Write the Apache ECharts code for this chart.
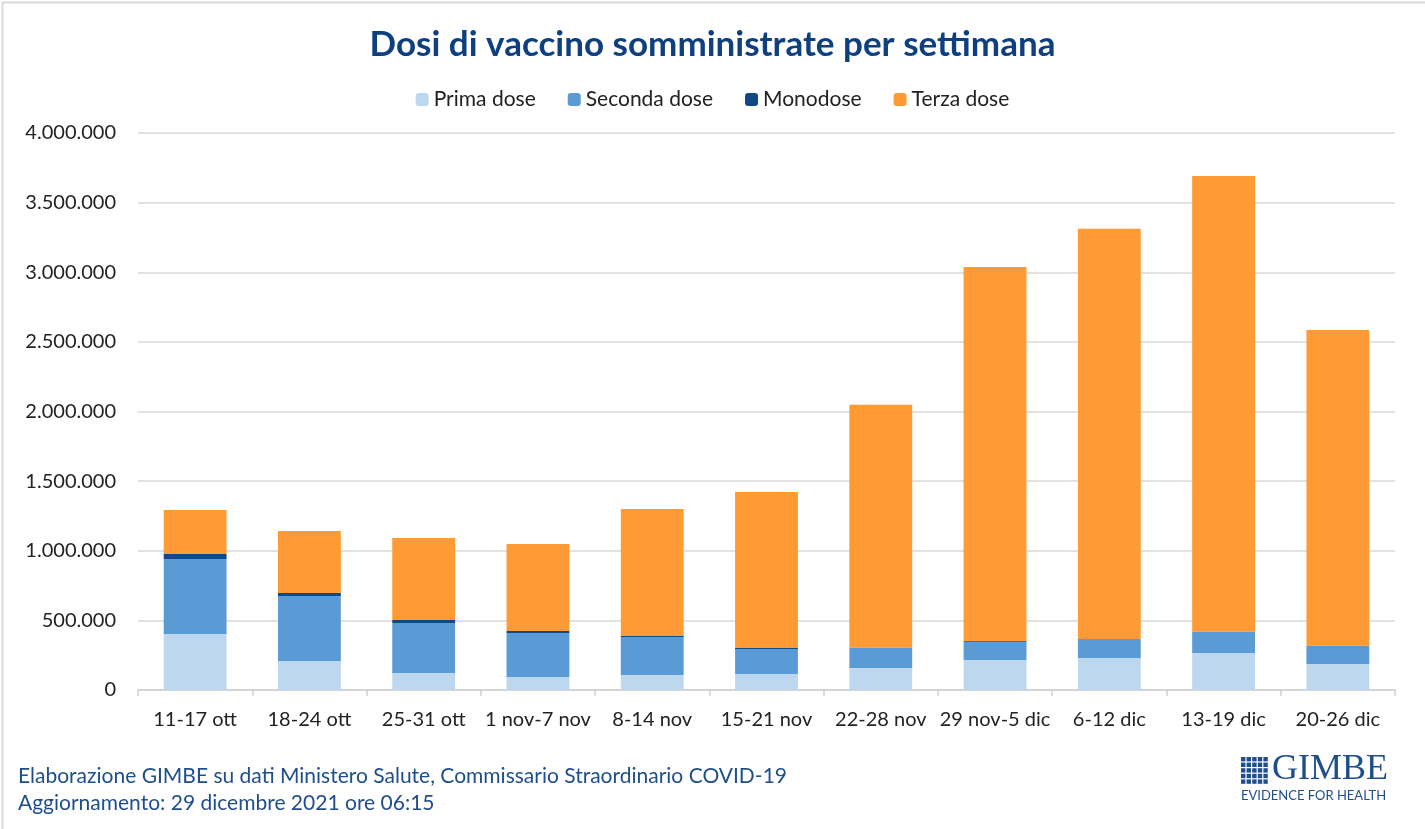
<!DOCTYPE html>
<html><head><meta charset="utf-8">
<script src="https://cdn.jsdelivr.net/npm/echarts@6/dist/echarts.min.js"></script>
<style>html,body{margin:0;padding:0;background:#fff}#c{width:1425px;height:829px}</style>
</head><body><div id="c"></div>
<script>
const categories = ['11-17 ott','18-24 ott','25-31 ott','1 nov-7 nov','8-14 nov','15-21 nov','22-28 nov','29 nov-5 dic','6-12 dic','13-19 dic','20-26 dic'];
const primaDose   = [402000, 208000, 122000, 93000, 108000, 115000, 158000, 215000, 230000, 266000, 187000];
const secondaDose = [539000, 467000, 359000, 316000, 273000, 179000, 144000, 132000, 136000, 151000, 129000];
const monodose    = [36000, 22000, 22000, 15000, 7000, 8000, 1000, 5000, 1000, 1000, 1000];
const terzaDose   = [316000, 445000, 589000, 624000, 912000, 1120000, 1745000, 2686000, 2945000, 3274000, 2269000];
const yTicks = [0, 500000, 1000000, 1500000, 2000000, 2500000, 3000000, 3500000, 4000000];

const FONT = 'Lato, "Liberation Sans", sans-serif';
const fmt = v => String(v).replace(/\B(?=(\d{3})+(?!\d))/g, '.');
const chart = echarts.init(document.getElementById('c'), null, {renderer:'canvas'});

// logo grid icon (decoration)
const logoCells = [];
for (let r = 0; r < 5; r++) for (let c = 0; c < 5; c++) {
  logoCells.push({type:'rect', left: 1241 + c*5.6, top: 757 + r*5.6, shape:{width:4.4, height:4.4}, style:{fill:'#1f4e8c'}});
}

chart.setOption({
  animation:false,
  backgroundColor:'#fff',
  title:{text:'Dosi di vaccino somministrate per settimana', left:'center', top:22,
    textStyle:{fontFamily:FONT, fontSize:35, fontWeight:'bold', color:'#0e3f7e'}},
  legend:{top:84, left:'center', itemWidth:13, itemHeight:13, itemGap:32,
    textStyle:{fontFamily:FONT, fontSize:21, color:'#222'},
    data:['Prima dose','Seconda dose','Monodose','Terza dose']},
  grid:{left:138, right:30, top:133, bottom:139},
  xAxis:{type:'category', data:categories,
    axisLine:{lineStyle:{color:'#d0d0d0', width:1.5}},
    axisTick:{show:true, alignWithLabel:false, length:6, lineStyle:{color:'#d0d0d0', width:1.5}},
    axisLabel:{fontFamily:FONT, fontSize:20, color:'#222', margin:20, interval:0}},
  yAxis:{type:'value', min:0, max:4000000, interval:500000,
    axisLine:{show:false}, axisTick:{show:false},
    splitLine:{lineStyle:{color:'#d9d9d9', width:1.5}},
    axisLabel:{fontFamily:FONT, fontSize:20, color:'#222', margin:22, formatter:v => fmt(v)}},
  series:[
    {name:'Prima dose', type:'bar', stack:'t', data:primaDose, barWidth:'55%', itemStyle:{color:'#bdd7ee'}},
    {name:'Seconda dose', type:'bar', stack:'t', data:secondaDose, itemStyle:{color:'#5b9bd5'}},
    {name:'Monodose', type:'bar', stack:'t', data:monodose, itemStyle:{color:'#0e4a85'}},
    {name:'Terza dose', type:'bar', stack:'t', data:terzaDose, itemStyle:{color:'#ff9a35'}}
  ],
  graphic:[
    {type:'rect', left:0, top:0, shape:{width:1424, height:828}, style:{fill:'none', stroke:'#d9d9d9', lineWidth:2}, silent:true},
    {type:'text', left:18, top:766, style:{text:'Elaborazione GIMBE su dati Ministero Salute, Commissario Straordinario COVID-19', fontFamily:FONT, fontSize:21, fill:'#1f4e8c'}},
    {type:'text', left:18, top:793, style:{text:'Aggiornamento: 29 dicembre 2021 ore 06:15', fontFamily:FONT, fontSize:21, fill:'#1f4e8c'}},
    ...logoCells,
    {type:'text', left:1272, top:752, style:{text:'GIMBE', fontFamily:'"Liberation Serif", "DejaVu Serif", serif', fontSize:36, fill:'#1f4e8c'}},
    {type:'text', left:1241, top:789, style:{text:'EVIDENCE FOR HEALTH', fontFamily:FONT, fontSize:13, fill:'#1f4e8c'}}
  ]
});
</script></body></html>
